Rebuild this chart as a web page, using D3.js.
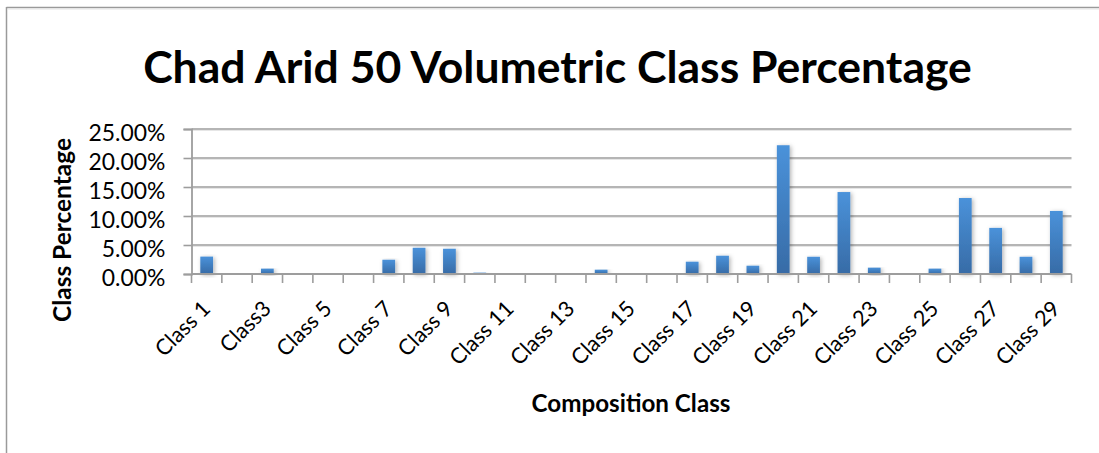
<!DOCTYPE html>
<html>
<head>
<meta charset="utf-8">
<script src="https://cdn.jsdelivr.net/npm/d3@7/dist/d3.min.js"></script>
<style>
  html, body { margin: 0; padding: 0; background: #fff; }
  svg { display: block; }
  text { font-family: Lato, "Open Sans", "DejaVu Sans", sans-serif; fill: #000; }
</style>
</head>
<body>
<svg id="chart" width="1099" height="453"></svg>
<script>
(function () {
// ---- data ----
const title = "Chad Arid 50 Volumetric Class Percentage";
const xTitle = "Composition Class";
const yTitle = "Class Percentage";
const categories = ["Class 1","Class 2","Class3","Class 4","Class 5","Class 6","Class 7","Class 8","Class 9","Class 10",
  "Class 11","Class 12","Class 13","Class 14","Class 15","Class 16","Class 17","Class 18","Class 19","Class 20",
  "Class 21","Class 22","Class 23","Class 24","Class 25","Class 26","Class 27","Class 28","Class 29"];
const values = [3.00, 0.05, 0.92, 0.05, 0.00, 0.05, 2.46, 4.52, 4.35, 0.23,
  0.05, 0.05, 0.05, 0.74, 0.00, 0.03, 2.12, 3.15, 1.43, 22.20,
  2.97, 14.13, 1.09, 0.05, 0.92, 13.10, 7.95, 2.97, 10.87];
const yTicks = [0, 5, 10, 15, 20, 25];

// ---- layout ----
const svg = d3.select("#chart");
const pLeft = 191.5, pRight = 1071.5, pTop = 129, pBottom = 274;

const x = d3.scaleBand().domain(categories).range([pLeft, pRight]).paddingInner(0.58).paddingOuter(0.29);
const xb = d3.scaleLinear().domain([0, categories.length]).range([pLeft, pRight]);
const y = d3.scaleLinear().domain([0, 25]).range([pBottom, pTop]);

function fit(sel, target, start) {
  sel.style("font-size", start + "px");
  const len = sel.node().getComputedTextLength();
  const s = start * target / len;
  sel.style("font-size", s + "px");
  return s;
}

const defs = svg.append("defs");
const grad = defs.append("linearGradient").attr("id", "barGrad").attr("x1", 0).attr("y1", 0).attr("x2", 0).attr("y2", 1);
grad.append("stop").attr("offset", "0%").attr("stop-color", "#4a92da");
grad.append("stop").attr("offset", "100%").attr("stop-color", "#376ba6");
const f = defs.append("filter").attr("id", "shadow").attr("x", "-50%").attr("y", "-10%").attr("width", "200%").attr("height", "130%");
f.append("feDropShadow").attr("dx", 1.5).attr("dy", 1).attr("stdDeviation", 2).attr("flood-color", "#000").attr("flood-opacity", 0.3);

// frame
svg.append("line").attr("x1", 6.5).attr("x2", 1099).attr("y1", 7.5).attr("y2", 7.5).attr("stroke", "#9a9a9a").attr("stroke-width", 1.5);
svg.append("line").attr("x1", 8).attr("x2", 1099).attr("y1", 9).attr("y2", 9).attr("stroke", "#e4e4e4").attr("stroke-width", 1);
svg.append("line").attr("x1", 6.5).attr("x2", 6.5).attr("y1", 7).attr("y2", 453).attr("stroke", "#9a9a9a").attr("stroke-width", 1.5);

// gridlines
const grid = svg.append("g");
grid.selectAll("line.g").data(yTicks.filter(d => d > 0)).enter().append("line")
  .attr("x1", pLeft).attr("x2", pRight).attr("y1", d => y(d)).attr("y2", d => y(d))
  .attr("stroke", "#9d9d9d").attr("stroke-width", 1.6);
grid.selectAll("line.gs").data(yTicks.filter(d => d > 0)).enter().append("line")
  .attr("x1", pLeft).attr("x2", pRight).attr("y1", d => y(d) + 1.5).attr("y2", d => y(d) + 1.5)
  .attr("stroke", "#e6e6e6").attr("stroke-width", 1);

// bars
svg.append("g").selectAll("rect").data(values).enter().append("rect")
  .attr("x", (d, i) => x(categories[i]))
  .attr("width", x.bandwidth())
  .attr("y", d => y(d))
  .attr("height", d => pBottom - y(d))
  .attr("fill", "url(#barGrad)")
  .attr("filter", "url(#shadow)");

// y axis
const yAxis = svg.append("g").attr("transform", `translate(${pLeft},0)`)
  .call(d3.axisLeft(y).tickValues(yTicks).tickSize(8).tickPadding(18).tickFormat(d => d.toFixed(2) + "%"));
yAxis.select(".domain").attr("stroke", "#9d9d9d").attr("stroke-width", 1.8);
yAxis.selectAll(".tick line").attr("stroke", "#9d9d9d").attr("stroke-width", 1.6);
yAxis.selectAll(".tick text").attr("fill", "#000").attr("dy", "0.5em").style("font-family", "Lato, sans-serif");
const yfs = fit(yAxis.selectAll(".tick text").filter(d => d === 25), 77, 20);
yAxis.selectAll(".tick text").style("font-size", yfs + "px");

// x axis (ticks at category boundaries)
const xg = svg.append("g");
xg.append("line").attr("x1", pLeft).attr("x2", pRight).attr("y1", pBottom).attr("y2", pBottom)
  .attr("stroke", "#9d9d9d").attr("stroke-width", 1.8);
xg.selectAll("line.t").data(d3.range(categories.length + 1)).enter().append("line")
  .attr("x1", d => xb(d)).attr("x2", d => xb(d)).attr("y1", pBottom).attr("y2", pBottom + 9)
  .attr("stroke", "#9d9d9d").attr("stroke-width", 1.6);
const labs = xg.selectAll("text").data(categories.filter((c, i) => i % 2 === 0)).enter().append("text")
  .attr("text-anchor", "end")
  .attr("transform", d => `translate(${x(d) + x.bandwidth() / 2 + 5},${pBottom + 36}) rotate(-45)`)
  .text(d => d);
const xfs = fit(labs.filter(d => d === "Class 29"), 80, 20);
labs.style("font-size", xfs + "px");

// titles
const t = svg.append("text").attr("x", 557.5).attr("y", 83).attr("text-anchor", "middle")
  .style("font-weight", "bold").text(title);
fit(t, 829, 44);

const xt = svg.append("text").attr("x", 631).attr("y", 412).attr("text-anchor", "middle")
  .style("font-weight", "bold").text(xTitle);
fit(xt, 199, 20);

const yt = svg.append("text").attr("transform", "translate(71,230) rotate(-90)").attr("text-anchor", "middle")
  .style("font-weight", "bold").text(yTitle);
fit(yt, 184, 20);
})();
</script>
</body>
</html>
